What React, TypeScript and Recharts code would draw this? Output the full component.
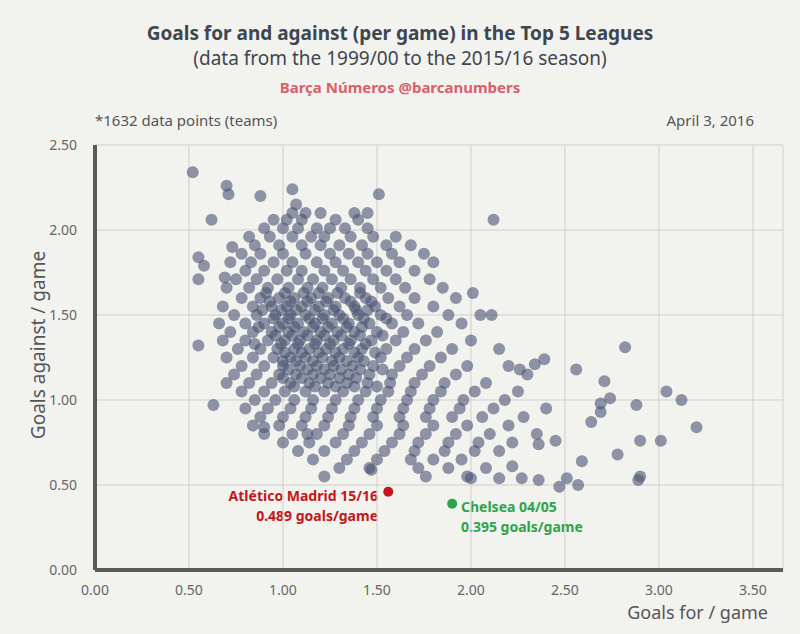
import React from 'react';
import { ScatterChart, Scatter, XAxis, YAxis, CartesianGrid, ReferenceLine } from 'recharts';

// goals against per game -> goals for per game of the teams at that level
const rows: [number, number[]][] = [
  [2.1, [1.05, 1.2, 1.38, 1.45, 1.12]],
  [2.06, [0.95, 1.1, 1.28, 1.4, 1.02]],
  [2.01, [0.9, 1.0, 1.08, 1.18, 1.33, 1.45, 1.25]],
  [1.96, [0.82, 0.93, 1.05, 1.15, 1.22, 1.36, 1.48, 1.6]],
  [1.91, [0.85, 0.98, 1.1, 1.2, 1.3, 1.42, 1.55, 1.68]],
  [1.86, [0.78, 0.88, 1.0, 1.12, 1.25, 1.35, 1.45, 1.58, 1.75]],
  [1.81, [0.72, 0.83, 0.95, 1.05, 1.18, 1.28, 1.4, 1.5, 1.62, 1.8]],
  [1.76, [0.8, 0.9, 1.02, 1.1, 1.22, 1.32, 1.44, 1.55, 1.7]],
  [1.71, [0.75, 0.86, 0.97, 1.08, 1.16, 1.26, 1.36, 1.48, 1.6, 1.78]],
  [1.66, [0.7, 0.82, 0.92, 1.03, 1.13, 1.21, 1.31, 1.41, 1.52, 1.65, 1.85]],
  [1.6, [0.78, 0.88, 0.98, 1.06, 1.15, 1.24, 1.33, 1.44, 1.56, 1.7, 1.92]],
  [1.55, [0.68, 0.84, 0.94, 1.02, 1.1, 1.19, 1.28, 1.38, 1.49, 1.62, 1.8]],
  [1.5, [0.74, 0.86, 0.96, 1.04, 1.12, 1.22, 1.3, 1.4, 1.52, 1.66, 1.88, 2.05]],
  [1.45, [0.66, 0.8, 0.9, 1.0, 1.08, 1.17, 1.26, 1.35, 1.46, 1.58, 1.72, 1.95]],
  [1.4, [0.72, 0.84, 0.94, 1.03, 1.11, 1.2, 1.29, 1.38, 1.5, 1.64, 1.82]],
  [1.35, [0.68, 0.8, 0.92, 1.01, 1.09, 1.18, 1.27, 1.36, 1.47, 1.6, 1.76, 2.0]],
  [1.3, [0.76, 0.88, 0.97, 1.06, 1.14, 1.23, 1.32, 1.42, 1.55, 1.7, 1.9, 2.15]],
  [1.25, [0.7, 0.84, 0.95, 1.04, 1.12, 1.21, 1.3, 1.4, 1.52, 1.66, 1.84]],
  [1.2, [0.78, 0.9, 1.0, 1.09, 1.18, 1.27, 1.37, 1.48, 1.62, 1.78, 1.98, 2.2]],
  [1.15, [0.74, 0.86, 0.98, 1.07, 1.16, 1.25, 1.35, 1.46, 1.58, 1.74, 1.92, 2.3]],
  [1.1, [0.7, 0.82, 0.94, 1.04, 1.14, 1.24, 1.34, 1.45, 1.57, 1.7, 1.86, 2.08]],
  [1.05, [0.78, 0.9, 1.01, 1.12, 1.22, 1.32, 1.44, 1.56, 1.68, 1.84, 2.02, 2.25]],
  [1.0, [0.85, 0.96, 1.06, 1.16, 1.28, 1.4, 1.52, 1.66, 1.8, 1.96, 2.18]],
  [0.95, [0.8, 0.92, 1.04, 1.15, 1.26, 1.38, 1.5, 1.64, 1.78, 1.94, 2.12, 2.4]],
  [0.9, [0.88, 1.0, 1.12, 1.24, 1.36, 1.48, 1.62, 1.76, 1.9, 2.06, 2.28]],
  [0.85, [0.84, 0.98, 1.1, 1.22, 1.35, 1.5, 1.64, 1.8, 1.98, 2.2]],
  [0.8, [0.9, 1.05, 1.18, 1.32, 1.46, 1.62, 1.76, 1.92, 2.1, 2.35]],
  [0.75, [1.0, 1.14, 1.28, 1.42, 1.58, 1.72, 1.88, 2.04, 2.22]],
  [0.7, [1.08, 1.22, 1.38, 1.54, 1.7, 1.86, 2.02, 2.15]],
  [0.65, [1.16, 1.34, 1.5, 1.68, 1.8, 1.95]],
  [0.6, [1.3, 1.46, 1.72, 1.88, 2.08]],
  [0.55, [1.22, 1.76, 1.98]],
  // denser core
  [1.63, [1.01, 1.11, 1.19, 1.29, 1.41, 0.91]],
  [1.58, [0.93, 1.04, 1.13, 1.23, 1.36, 1.47]],
  [1.53, [0.99, 1.07, 1.17, 1.27, 1.39, 1.45, 0.89]],
  [1.48, [0.95, 1.03, 1.14, 1.21, 1.32, 1.43, 1.55]],
  [1.43, [0.98, 1.06, 1.16, 1.24, 1.34, 1.42, 0.87]],
  [1.38, [0.96, 1.05, 1.13, 1.22, 1.31, 1.41, 1.53]],
  [1.33, [0.99, 1.08, 1.17, 1.25, 1.35, 1.44, 0.85]],
  [1.28, [1.01, 1.1, 1.19, 1.28, 1.38, 1.49]],
  [1.23, [1.0, 1.07, 1.16, 1.26, 1.34, 1.43]],
  [1.18, [1.03, 1.13, 1.22, 1.31, 1.41, 1.53]],
  [1.13, [1.0, 1.1, 1.2, 1.3, 1.39]],
  [1.08, [1.06, 1.17, 1.28, 1.38, 1.5]],
];

// [goals for, goals against]
const outliers: [number, number][] = [
  [0.52, 2.34], [0.7, 2.26], [0.71, 2.21], [0.88, 2.2], [0.62, 2.06], [1.05, 2.24],
  [1.07, 2.15], [1.51, 2.21], [2.12, 2.06], [0.55, 1.84], [0.58, 1.79], [0.55, 1.71],
  [0.69, 1.72], [0.73, 1.9], [0.55, 1.32], [0.63, 0.97], [2.01, 1.63], [2.11, 1.5],
  [2.82, 1.31], [2.56, 1.18], [2.71, 1.11], [2.74, 1.01], [2.69, 0.98], [2.69, 0.93],
  [2.64, 0.87], [2.88, 0.97], [3.04, 1.05], [3.12, 1.0], [3.2, 0.84], [3.01, 0.76],
  [2.9, 0.76], [2.78, 0.68], [2.9, 0.55], [2.89, 0.53], [2.59, 0.64], [2.51, 0.54],
  [2.47, 0.49], [2.57, 0.5], [2.45, 0.76], [2.36, 0.74], [2.36, 0.53], [2.27, 0.54],
  [2.22, 0.61], [2.15, 0.54], [2.0, 0.54], [2.39, 1.24], [2.34, 1.21], [2.26, 1.18],
  [1.47, 0.59], [1.13, 0.8], [0.9, 0.84],
];

const atletico = [{ gf: 1.56, ga: 0.46 }];
const chelsea = [{ gf: 1.9, ga: 0.39 }];

const xTicks = [0, 0.5, 1, 1.5, 2, 2.5, 3, 3.5];
const yTicks = [0, 0.5, 1, 1.5, 2, 2.5];

const teams = [
  ...rows.flatMap(([ga, gfs]) => gfs.map(gf => ({ gf, ga }))),
  ...outliers.map(([gf, ga]) => ({ gf, ga })),
];

const FONT = '"Noto Sans", sans-serif';
const fmt = (v: number) => v.toFixed(2);

const dot = (fill: string, r: number, op: number) => (p: any) => (
  <circle cx={p.cx} cy={p.cy} r={r} fill={fill} fillOpacity={op} />
);

const txt = (style: React.CSSProperties): React.CSSProperties => ({
  position: 'absolute',
  fontFamily: FONT,
  whiteSpace: 'nowrap',
  ...style,
});

export default function App() {
  return (
    <div style={{ position: 'fixed', top: 0, left: 0, width: 800, height: 634, background: '#f2f2ee' }}>
      <div style={txt({ top: 20, width: 800, textAlign: 'center', fontSize: 19, fontWeight: 700, color: '#3e4650' })}>
        Goals for and against (per game) in the Top 5 Leagues
      </div>
      <div style={txt({ top: 45, width: 800, textAlign: 'center', fontSize: 19, color: '#3e4650' })}>
        (data from the 1999/00 to the 2015/16 season)
      </div>
      <div style={txt({ top: 77, width: 800, textAlign: 'center', fontSize: 15, fontWeight: 700, color: '#d7606c' })}>
        Barça Números @barcanumbers
      </div>
      <div style={txt({ top: 110, left: 95, fontSize: 15, color: '#555' })}>*1632 data points (teams)</div>
      <div style={txt({ top: 110, right: 46, fontSize: 15, color: '#555' })}>April 3, 2016</div>
      <div style={txt({ top: 601, right: 32, fontSize: 18, color: '#555', lineHeight: '22px' })}>Goals for / game</div>
      <div
        style={txt({
          top: 345, left: 38, fontSize: 19, color: '#555',
          transform: 'translate(-50%, -50%) rotate(-90deg)',
        })}
      >
        Goals against / game
      </div>
      <div style={txt({ top: 486, right: 800 - 378, textAlign: 'right', fontSize: 14, fontWeight: 700, color: '#c4161c', lineHeight: '20px' })}>
        Atlético Madrid 15/16
        <br />
        0.489 goals/game
      </div>
      <div style={txt({ top: 497, left: 461, fontSize: 14, fontWeight: 700, color: '#2ea44f', lineHeight: '20px' })}>
        Chelsea 04/05
        <br />
        0.395 goals/game
      </div>
      <div style={{ position: 'absolute', top: 0, left: 0 }}>
        <ScatterChart width={800} height={634} margin={{ top: 145, right: 17, bottom: 0, left: 0 }}>
          <CartesianGrid stroke="#cfcfcc" strokeWidth={1} />
          <XAxis
            type="number" dataKey="gf" domain={[0, 3.66]} ticks={xTicks} tickFormatter={fmt}
            height={64} axisLine={false} tickLine={false} tickMargin={9}
            tick={{ fill: '#666', fontSize: 14, fontFamily: FONT }}
          />
          <YAxis
            type="number" dataKey="ga" domain={[0, 2.5]} ticks={yTicks} tickFormatter={fmt}
            width={95} axisLine={false} tickLine={false} tickMargin={12}
            tick={{ fill: '#666', fontSize: 14, fontFamily: FONT }}
          />
          <ReferenceLine x={0} stroke="#5a5a5a" strokeWidth={4} />
          <ReferenceLine y={0} stroke="#5a5a5a" strokeWidth={4} />
          <Scatter data={teams} shape={dot('#4a5473', 6, 0.6)} isAnimationActive={false} />
          <Scatter data={atletico} shape={dot('#c4161c', 5, 1)} isAnimationActive={false} />
          <Scatter data={chelsea} shape={dot('#2ea44f', 5, 1)} isAnimationActive={false} />
        </ScatterChart>
      </div>
    </div>
  );
}
